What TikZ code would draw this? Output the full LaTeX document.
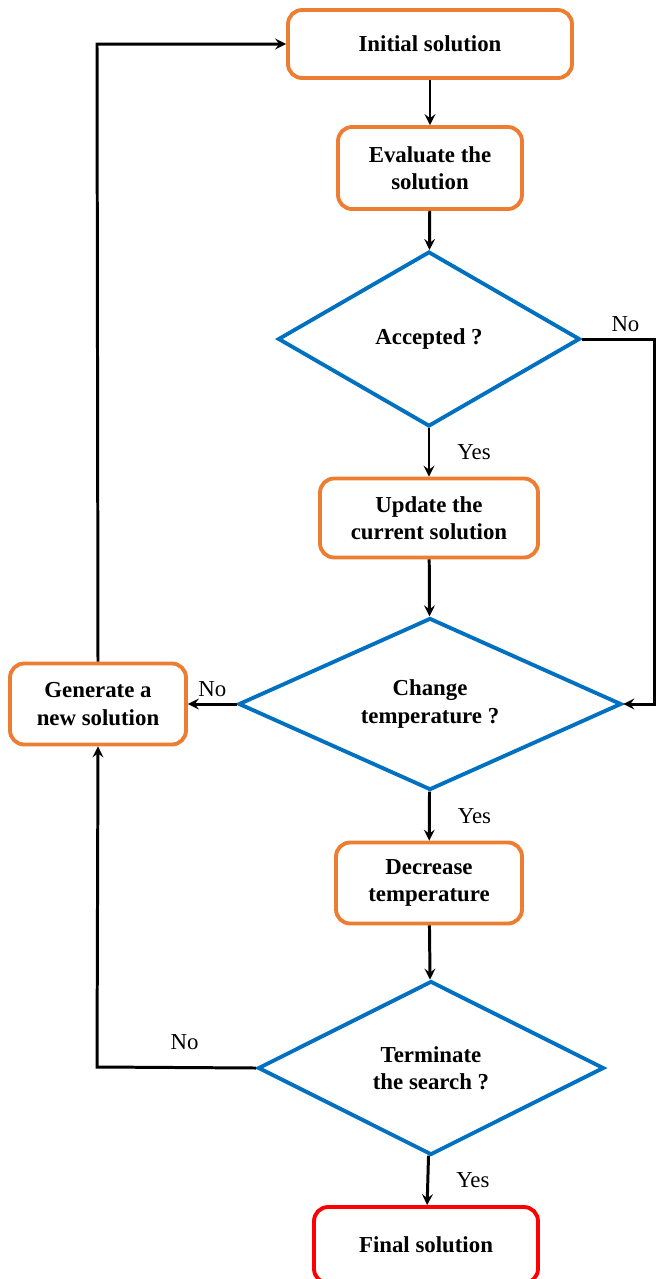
\documentclass[tikz,border=0pt]{standalone}
\usepackage{fontspec}
\setmainfont{Liberation Serif}
\usepackage{xcolor}
\usepackage{tikz}
\usetikzlibrary{shapes.geometric, arrows, positioning}

\definecolor{boxorange}{RGB}{237,125,49}
\definecolor{decblue}{RGB}{0,112,192}

\begin{document}
\begin{tikzpicture}[
    x=0.02cm, y=-0.02cm,
    box/.style={rectangle, draw=boxorange, line width=2.2pt, rounded corners=8pt, align=center, fill=white,
        font=\fontsize{13}{15.5}\selectfont\bfseries},
    decision/.style={diamond, aspect=2.4, draw=decblue, line width=2.2pt, align=center, inner sep=0pt,
        font=\fontsize{13}{15.5}\selectfont\bfseries},
    arrow/.style={->, line width=1.7pt, >=stealth},
    lbl/.style={font=\fontsize{13}{15}\selectfont}
]
\useasboundingbox (0,0) rectangle (656,1279);

% Main column
\node[box, minimum width=5.68cm, minimum height=1.36cm] (init) at (430,44) {Initial solution};
\node[box, minimum width=3.68cm, minimum height=1.64cm] (eval) at (430,168) {Evaluate the\\solution};
\node[decision, minimum width=6.04cm, minimum height=3.5cm] (accept) at (429,339) {Accepted ?};
\node[box, minimum width=4.36cm, minimum height=1.58cm] (update) at (429,518) {Update the\\current solution};
\node[decision, minimum width=7.66cm, minimum height=3.44cm] (change) at (430,704) {Change\\temperature ?};
\node[box, minimum width=3.72cm, minimum height=1.62cm] (decrease) at (429,883) {Decrease\\temperature};
\node[decision, minimum width=6.92cm, minimum height=3.48cm] (term) at (431,1068) {Terminate\\the search ?};
\node[box, draw=red, minimum width=4.48cm, minimum height=1.52cm] (final) at (426,1245) {Final solution};

% Side box
\node[box, minimum width=3.52cm, minimum height=1.62cm] (newsol) at (98,704) {Generate a\\new solution};

% Corner points
\coordinate (rtop) at (654.5,339);
\coordinate (rbot) at (654.5,704);
\coordinate (ltop) at (97,44);
\coordinate (lbot) at (97,1067);

% Arrows
\draw[arrow] (init) -- (eval);
\draw[arrow] (eval) -- (accept);
\draw[arrow] (accept) -- (update) node[midway, right=12pt, lbl] {Yes};
\draw[arrow] (accept.east) -- node[above, lbl, pos=0.6] {No} (rtop) -- (rbot) -- (change.east);
\draw[arrow] (update) -- (change);
\draw[arrow] (change.west) -- (newsol.east) node[midway, above, lbl] {No};
\draw[arrow] (change) -- (decrease) node[midway, right=12pt, lbl] {Yes};
\draw[arrow] (decrease) -- (term);
\draw[arrow] (term) -- (final) node[midway, right=12pt, lbl] {Yes};
\draw[arrow] (term.west) -- node[above=6pt, lbl, pos=0.45] {No} (lbot) -- (newsol.south);
\draw[arrow] (newsol.north) -- (ltop) -- (init.west);

\end{tikzpicture}
\end{document}
